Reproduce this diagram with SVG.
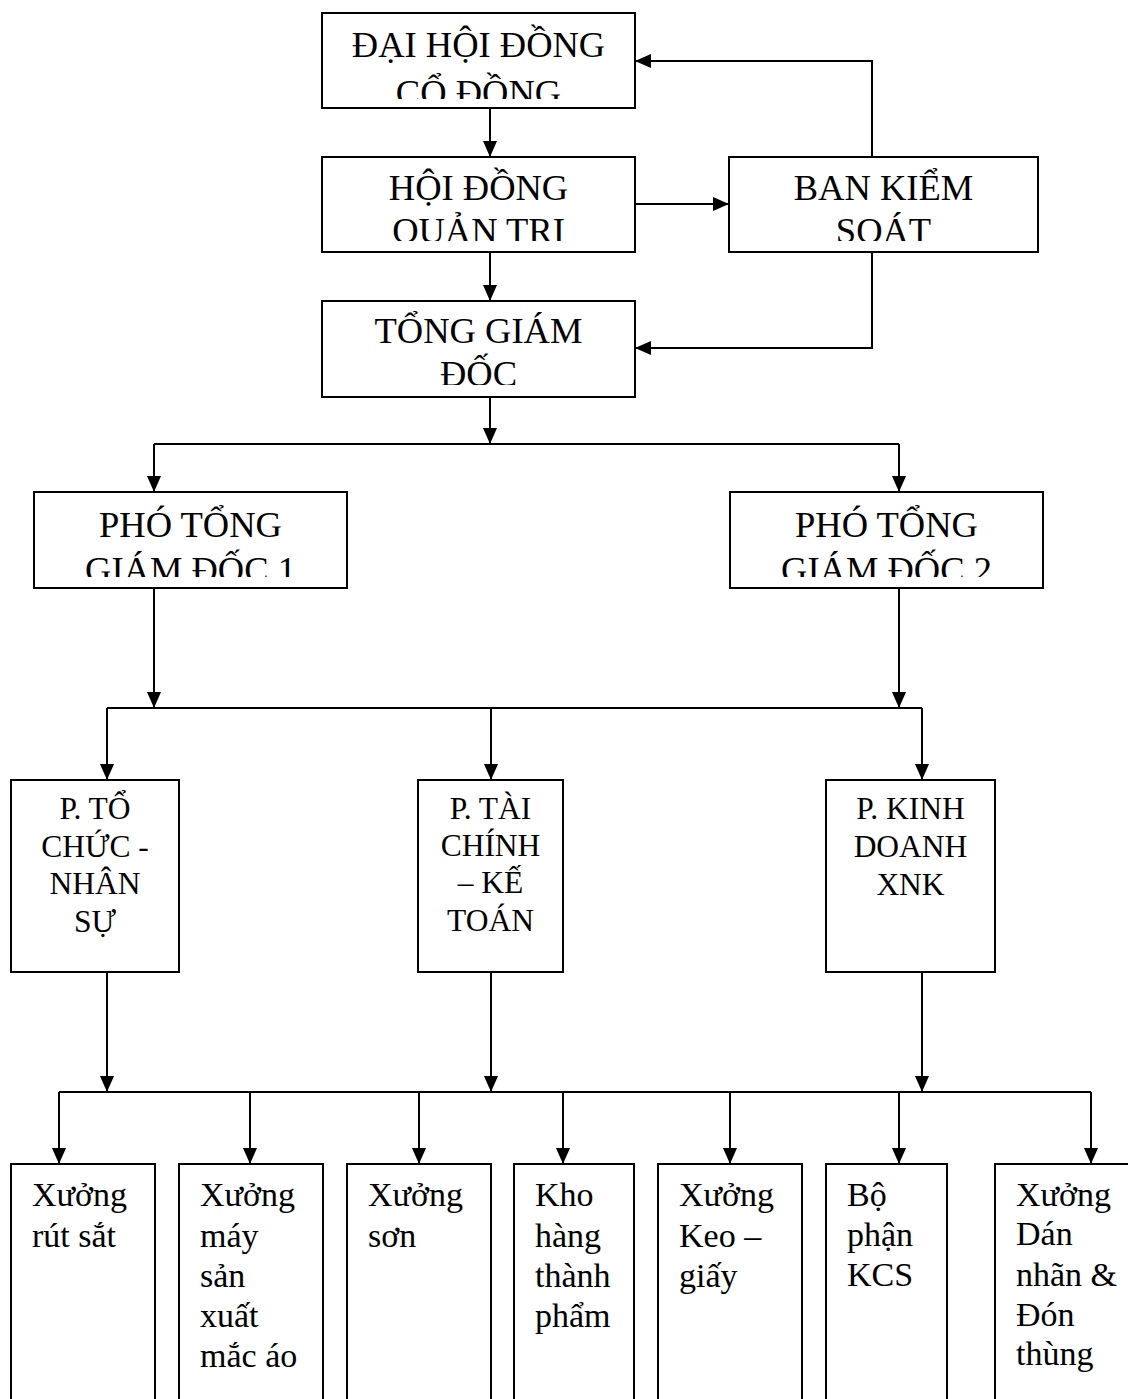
<svg xmlns="http://www.w3.org/2000/svg" width="1128" height="1399" viewBox="0 0 1128 1399">
<style>
.box{fill:#fff;stroke:#000;stroke-width:2}
.t{font-family:"Liberation Serif","Times New Roman",serif;fill:#000}
.top{font-size:36.5px;text-anchor:middle}
.mid{font-size:31.5px;text-anchor:middle}
.bot{font-size:34px}
.c{fill:none;stroke:#000;stroke-width:2}
</style>
<defs>
<marker id="ah" markerUnits="userSpaceOnUse" markerWidth="17" markerHeight="16" refX="16" refY="8" orient="auto">
<path d="M0,1 L16,8 L0,15 z" fill="#000"/>
</marker>
<clipPath id="cDH"><rect x="322" y="13" width="313" height="86"/></clipPath>
<clipPath id="cHQ"><rect x="322" y="157" width="313" height="84"/></clipPath>
<clipPath id="cBK"><rect x="729" y="157" width="309" height="84"/></clipPath>
<clipPath id="cTG"><rect x="322" y="301" width="313" height="84"/></clipPath>
<clipPath id="cP1"><rect x="34" y="492" width="313" height="85"/></clipPath>
<clipPath id="cP2"><rect x="730" y="492" width="313" height="85"/></clipPath>
</defs>
<rect width="1128" height="1399" fill="#fff"/>

<g id="connectors">
<path class="c" d="M490,108 V157" marker-end="url(#ah)"/>
<path class="c" d="M490,252 V301" marker-end="url(#ah)"/>
<path class="c" d="M635,204 H729" marker-end="url(#ah)"/>
<path class="c" d="M872,157 V61 H635" marker-end="url(#ah)"/>
<path class="c" d="M872,252 V348 H635" marker-end="url(#ah)"/>
<path class="c" d="M490,397 V444" marker-end="url(#ah)"/>
<path class="c" d="M154,444 H899"/>
<path class="c" d="M154,444 V492" marker-end="url(#ah)"/>
<path class="c" d="M899,444 V492" marker-end="url(#ah)"/>
<path class="c" d="M154,588 V708" marker-end="url(#ah)"/>
<path class="c" d="M899,588 V708" marker-end="url(#ah)"/>
<path class="c" d="M107,708 H922"/>
<path class="c" d="M107,708 V780" marker-end="url(#ah)"/>
<path class="c" d="M491,708 V780" marker-end="url(#ah)"/>
<path class="c" d="M922,708 V780" marker-end="url(#ah)"/>
<path class="c" d="M107,972 V1092" marker-end="url(#ah)"/>
<path class="c" d="M491,972 V1092" marker-end="url(#ah)"/>
<path class="c" d="M922,972 V1092" marker-end="url(#ah)"/>
<path class="c" d="M59,1092 H1091"/>
<path class="c" d="M59,1092 V1164" marker-end="url(#ah)"/>
<path class="c" d="M250,1092 V1164" marker-end="url(#ah)"/>
<path class="c" d="M419,1092 V1164" marker-end="url(#ah)"/>
<path class="c" d="M563,1092 V1164" marker-end="url(#ah)"/>
<path class="c" d="M730,1092 V1164" marker-end="url(#ah)"/>
<path class="c" d="M899,1092 V1164" marker-end="url(#ah)"/>
<path class="c" d="M1091,1092 V1164" marker-end="url(#ah)"/>
</g>

<g id="dai-hoi-dong-co-dong">
<rect class="box" x="322" y="13" width="313" height="95"/>
<g clip-path="url(#cDH)"><text class="t top" x="478.5" y="57">ĐẠI HỘI ĐỒNG</text><text class="t top" x="478.5" y="105">CỔ ĐỒNG</text></g>
</g>
<g id="hoi-dong-quan-tri">
<rect class="box" x="322" y="157" width="313" height="95"/>
<g clip-path="url(#cHQ)"><text class="t top" x="478.5" y="200">HỘI ĐỒNG</text><text class="t top" x="478.5" y="243">QUẢN TRỊ</text></g>
</g>
<g id="ban-kiem-soat">
<rect class="box" x="729" y="157" width="309" height="95"/>
<g clip-path="url(#cBK)"><text class="t top" x="883.5" y="200">BAN KIỂM</text><text class="t top" x="883.5" y="243">SOÁT</text></g>
</g>
<g id="tong-giam-doc">
<rect class="box" x="322" y="301" width="313" height="96"/>
<g clip-path="url(#cTG)"><text class="t top" x="478.5" y="343">TỔNG GIÁM</text><text class="t top" x="478.5" y="386">ĐỐC</text></g>
</g>
<g id="pho-tong-giam-doc-1">
<rect class="box" x="34" y="492" width="313" height="96"/>
<g clip-path="url(#cP1)"><text class="t top" x="190.5" y="537">PHÓ TỔNG</text><text class="t top" x="190.5" y="582">GIÁM ĐỐC 1</text></g>
</g>
<g id="pho-tong-giam-doc-2">
<rect class="box" x="730" y="492" width="313" height="96"/>
<g clip-path="url(#cP2)"><text class="t top" x="886.5" y="537">PHÓ TỔNG</text><text class="t top" x="886.5" y="582">GIÁM ĐỐC 2</text></g>
</g>

<g id="p-to-chuc-nhan-su">
<rect class="box" x="11" y="780" width="168" height="192"/>
<text class="t mid" x="95" y="819">P. TỔ</text>
<text class="t mid" x="95" y="857">CHỨC -</text>
<text class="t mid" x="95" y="894">NHÂN</text>
<text class="t mid" x="95" y="932">SỰ</text>
</g>
<g id="p-tai-chinh-ke-toan">
<rect class="box" x="418" y="780" width="145" height="192"/>
<text class="t mid" x="490.5" y="819">P. TÀI</text>
<text class="t mid" x="490.5" y="856">CHÍNH</text>
<text class="t mid" x="490.5" y="893">– KẾ</text>
<text class="t mid" x="490.5" y="931">TOÁN</text>
</g>
<g id="p-kinh-doanh-xnk">
<rect class="box" x="826" y="780" width="169" height="192"/>
<text class="t mid" x="910.5" y="819">P. KINH</text>
<text class="t mid" x="910.5" y="857">DOANH</text>
<text class="t mid" x="910.5" y="895">XNK</text>
</g>

<g id="xuong-rut-sat">
<rect class="box" x="11" y="1164" width="144" height="250"/>
<text class="t bot" x="32" y="1206">Xưởng</text>
<text class="t bot" x="32" y="1247">rút sắt</text>
</g>
<g id="xuong-may-san-xuat-mac-ao">
<rect class="box" x="179" y="1164" width="144" height="250"/>
<text class="t bot" x="200" y="1206">Xưởng</text>
<text class="t bot" x="200" y="1247">máy</text>
<text class="t bot" x="200" y="1287">sản</text>
<text class="t bot" x="200" y="1327">xuất</text>
<text class="t bot" x="200" y="1367">mắc áo</text>
</g>
<g id="xuong-son">
<rect class="box" x="347" y="1164" width="144" height="250"/>
<text class="t bot" x="368" y="1206">Xưởng</text>
<text class="t bot" x="368" y="1247">sơn</text>
</g>
<g id="kho-hang-thanh-pham">
<rect class="box" x="514" y="1164" width="120" height="250"/>
<text class="t bot" x="535" y="1206">Kho</text>
<text class="t bot" x="535" y="1247">hàng</text>
<text class="t bot" x="535" y="1287">thành</text>
<text class="t bot" x="535" y="1327">phẩm</text>
</g>
<g id="xuong-keo-giay">
<rect class="box" x="658" y="1164" width="144" height="250"/>
<text class="t bot" x="679" y="1206">Xưởng</text>
<text class="t bot" x="679" y="1247">Keo –</text>
<text class="t bot" x="679" y="1287">giấy</text>
</g>
<g id="bo-phan-kcs">
<rect class="box" x="826" y="1164" width="121" height="250"/>
<text class="t bot" x="847" y="1206">Bộ</text>
<text class="t bot" x="847" y="1246">phận</text>
<text class="t bot" x="847" y="1286">KCS</text>
</g>
<g id="xuong-dan-nhan-dong-thung">
<rect class="box" x="995" y="1164" width="150" height="250"/>
<text class="t bot" x="1016" y="1206">Xưởng</text>
<text class="t bot" x="1016" y="1245">Dán</text>
<text class="t bot" x="1016" y="1286">nhãn &amp;</text>
<text class="t bot" x="1016" y="1326">Đón</text>
<text class="t bot" x="1016" y="1365">thùng</text>
</g>
</svg>
